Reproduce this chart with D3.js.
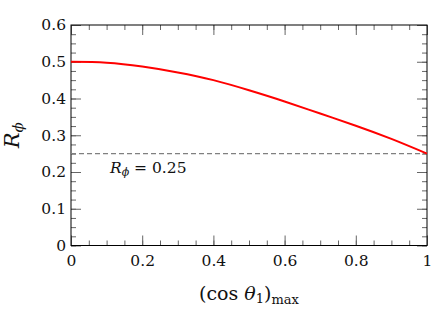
<!DOCTYPE html>
<html><head><meta charset="utf-8">
<script src="https://cdn.jsdelivr.net/npm/d3@7"></script>
<style>body{margin:0;background:#fff}svg{display:block}</style>
</head><body>
<script>
const xValues = [0, 0.1, 0.2, 0.3, 0.4, 0.5, 0.6, 0.7, 0.8, 0.9, 1.0];
const rPhi    = [0.500, 0.4975, 0.487, 0.471, 0.450, 0.4225, 0.392, 0.359, 0.326, 0.290, 0.250];
const refLevel = 0.25;
const xMajorTicks = [0, 0.2, 0.4, 0.6, 0.8, 1];
const xTickLabels = ["0", "0.2", "0.4", "0.6", "0.8", "1"];
const yMajorTicks = [0, 0.1, 0.2, 0.3, 0.4, 0.5, 0.6];
const yTickLabels = ["0", "0.1", "0.2", "0.3", "0.4", "0.5", "0.6"];

const W = 436, H = 316;
const m = {left: 71, top: 25, right: 9, bottom: 70.5};
const iw = W - m.left - m.right, ih = H - m.top - m.bottom;
const FONT = "DejaVu Serif";

const svg = d3.select("body").append("svg").attr("width", W).attr("height", H)
  .style("font-family", FONT);
const g = svg.append("g").attr("transform", `translate(${m.left},${m.top})`);

const x = d3.scaleLinear().domain([0, 1]).range([0, iw]);
const y = d3.scaleLinear().domain([0, 0.6]).range([ih, 0]);

const xMinor = d3.range(0, 20.5).map(i => i * 0.05);
const yMinor = d3.range(0, 24.5).map(i => i * 0.025);

function styleAxis(sel) {
  sel.attr("font-family", FONT);
  sel.select(".domain").remove();
  sel.selectAll(".tick line").attr("stroke", "#666").attr("stroke-width", 1);
  sel.selectAll(".tick text").style("font-family", FONT).attr("font-size", 15.5).attr("fill", "#111");
}
// minor ticks
g.append("g").attr("transform", `translate(0,${ih})`).call(d3.axisBottom(x).tickValues(xMinor).tickSize(-5).tickFormat("")).call(styleAxis);
g.append("g").call(d3.axisTop(x).tickValues(xMinor).tickSize(-5).tickFormat("")).call(styleAxis);
g.append("g").call(d3.axisLeft(y).tickValues(yMinor).tickSize(-5).tickFormat("")).call(styleAxis);
g.append("g").attr("transform", `translate(${iw},0)`).call(d3.axisRight(y).tickValues(yMinor).tickSize(-5).tickFormat("")).call(styleAxis);
// major ticks
g.append("g").attr("transform", `translate(0,${ih})`)
  .call(d3.axisBottom(x).tickValues(xMajorTicks).tickSize(-10).tickPadding(9).tickFormat((d, i) => xTickLabels[i]))
  .call(styleAxis);
g.append("g").call(d3.axisTop(x).tickValues(xMajorTicks).tickSize(-10).tickFormat("")).call(styleAxis);
g.append("g")
  .call(d3.axisLeft(y).tickValues(yMajorTicks).tickSize(-10).tickPadding(5).tickFormat((d, i) => yTickLabels[i]))
  .call(styleAxis);
g.append("g").attr("transform", `translate(${iw},0)`).call(d3.axisRight(y).tickValues(yMajorTicks).tickSize(-10).tickFormat("")).call(styleAxis);

// frame
g.append("rect").attr("x", 0).attr("y", 0).attr("width", iw).attr("height", ih)
  .attr("fill", "none").attr("stroke", "#000").attr("stroke-width", 1);

// dashed reference
g.append("line").attr("x1", x(0)).attr("x2", x(1)).attr("y1", y(refLevel)).attr("y2", y(refLevel))
  .attr("stroke", "#808080").attr("stroke-width", 1.3).attr("stroke-dasharray", "5,3");

// curve
const data = xValues.map((v, i) => [v, rPhi[i]]);
g.append("path").datum(data)
  .attr("d", d3.line().x(d => x(d[0])).y(d => y(d[1])).curve(d3.curveNatural))
  .attr("fill", "none").attr("stroke", "#ff0000").attr("stroke-width", 2);

// annotation
const ann = g.append("text").attr("x", 39).attr("y", 148).attr("font-size", 15.5).attr("fill", "#111");
ann.append("tspan").attr("font-style", "italic").text("R");
ann.append("tspan").attr("font-style", "italic").attr("font-size", 11).attr("dy", 3).text("ϕ");
ann.append("tspan").attr("dy", -3).text(" = 0.25");

// x label
const xl = svg.append("text").attr("x", m.left + iw / 2).attr("y", 300).attr("text-anchor", "middle")
  .attr("font-size", 19).attr("fill", "#111");
xl.append("tspan").text("(cos ");
xl.append("tspan").attr("font-style", "italic").text("θ");
xl.append("tspan").attr("font-size", 13).attr("dy", 3).text("1");
xl.append("tspan").attr("dy", -3).text(")");
xl.append("tspan").attr("font-size", 13).attr("dy", 4).text("max");

// y label
const yl = svg.append("text").attr("transform", `translate(19,${m.top + ih / 2}) rotate(-90)`)
  .attr("text-anchor", "middle").attr("font-size", 21).attr("fill", "#111");
yl.append("tspan").attr("font-style", "italic").text("R");
yl.append("tspan").attr("font-style", "italic").attr("font-size", 15).attr("dy", 4).text("ϕ");
</script>
</body></html>
